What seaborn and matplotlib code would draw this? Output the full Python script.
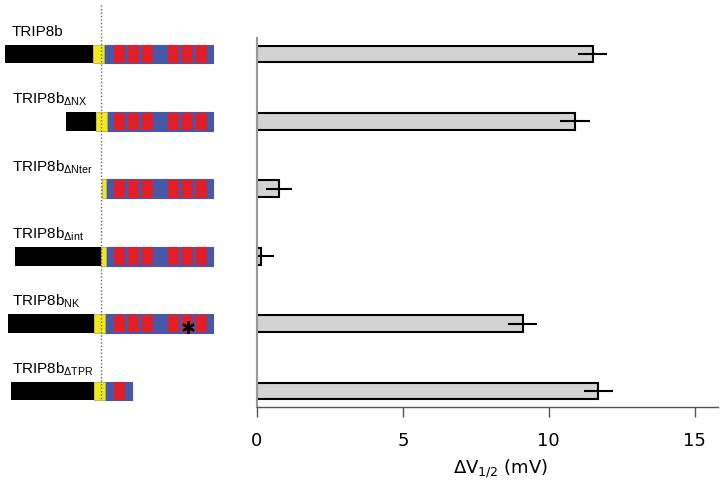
import numpy as np
import matplotlib
matplotlib.use('Agg')
import matplotlib.pyplot as plt
import seaborn as sns

# constructs and measured shift of V1/2
constructs = ['TRIP8b', 'ΔNX', 'ΔNter', 'Δint', 'NK', 'ΔTPR']
subscripts = ['', r'\Delta NX', r'\Delta Nter', r'\Delta int', 'NK', r'\Delta TPR']
dv_half = [11.5, 10.9, 0.75, 0.12, 9.1, 11.7]
dv_err = [0.5, 0.5, 0.45, 0.45, 0.5, 0.5]

# domain maps (arbitrary position units)
nterm_start = [5, 66, np.nan, 15, 8, 11]
core_start = [93, 96, 102, 101, 94, 94]
core_end = [104, 107, 106, 106, 105, 105]
c_end = [213, 213, 213, 213, 213, 132]
tpr_starts = [114, 128, 142, 168, 182, 196]
tpr_width = 11
tpr_count = [6, 6, 6, 6, 6, 1]
mutated_tpr = [None, None, None, None, 4, None]
dotted_pos = 101

sns.set_style('white')
plt.rcParams['font.family'] = ['DejaVu Sans']
plt.rcParams['text.color'] = 'black'
plt.rcParams['axes.labelcolor'] = 'black'
plt.rcParams['xtick.labelcolor'] = 'black'
plt.rcParams['mathtext.fontset'] = 'custom'
plt.rcParams['mathtext.rm'] = 'Liberation Sans'
plt.rcParams['mathtext.default'] = 'regular'

fig = plt.figure(figsize=(7.24, 4.82), dpi=100)
W, H = 724, 482
row0, dy = 54, 67.4

# ---- bar chart ----
ax = fig.add_axes([257 / W, (H - 407) / H, (718 - 257) / W, (407 - 38) / H])
sns.barplot(x=dv_half, y=constructs, orient='h', color='#d3d3d3', edgecolor='black',
            linewidth=1.5, width=0.25, errorbar=None, ax=ax, saturation=1)
ax.errorbar(dv_half, np.arange(len(constructs)), xerr=dv_err, fmt='none',
            ecolor='black', elinewidth=1.5, capsize=0)
top_pad = (row0 - 38) / dy
ax.set_ylim(len(constructs) - 1 + top_pad, -top_pad)
ax.set_xlim(0, 15.8)
ax.set_xticks([0, 5, 10, 15])
ax.set_yticks([])
ax.set_ylabel('')
ax.tick_params(axis='x', direction='out', length=7, width=1, color='#555555',
               labelsize=13, pad=11, bottom=True, labelcolor='black')
for s in ['top', 'right']:
    ax.spines[s].set_visible(False)
ax.spines['left'].set_color('#999999')
ax.spines['left'].set_linewidth(1.5)
ax.spines['bottom'].set_color('#555555')
ax.spines['bottom'].set_linewidth(1)
ax.set_xlabel(r'ΔV$_{1/2}$ (mV)', fontsize=13, math_fontfamily='dejavusans', color='black')
ax.xaxis.set_label_coords((501 - 257) / 461, (407 - 474) / 369)
ax.xaxis.label.set_va('baseline')

# ---- domain diagrams ----
axd = fig.add_axes([0, 0, 240 / W, 1])
axd.set_xlim(0, 240)
axd.set_ylim((H - row0) / dy, -row0 / dy)
axd.axis('off')
h = 0.28
axd.plot([dotted_pos, dotted_pos], [(5 - row0) / dy, (400 - row0) / dy],
         color='#666666', lw=1, ls=(0, (1, 1.5)), zorder=5)
for i in range(len(constructs)):
    yb = i - h / 2
    axd.broken_barh([(core_end[i], c_end[i] - core_end[i])], (yb, h),
                    facecolors='#4659a8', edgecolors='#4a5aa0', lw=0.8)
    for k in range(tpr_count[i]):
        axd.broken_barh([(tpr_starts[k], tpr_width)], (yb + 0.01, h - 0.02),
                        facecolors='#e31e26', lw=0)
    axd.broken_barh([(core_start[i], core_end[i] - core_start[i])], (yb, h),
                    facecolors='#f2e81c', edgecolors='#b8b050', lw=0.6)
    if not np.isnan(nterm_start[i]):
        axd.broken_barh([(nterm_start[i], core_start[i] - nterm_start[i])], (yb, h),
                        facecolors='black', lw=0)
    if mutated_tpr[i] is not None:
        axd.plot(tpr_starts[mutated_tpr[i]] + tpr_width / 2, i + 0.05, marker=(6, 2, 0),
                 color='black', ms=9, mew=1.6)
    label = 'TRIP8b' if subscripts[i] == '' else 'TRIP8b$_{' + subscripts[i] + '}$'
    axd.text(12, i - 0.26, label, fontsize=11, family='Liberation Sans', va='baseline',
             ha='left', color='black')

fig.savefig('out.png', dpi=100)
